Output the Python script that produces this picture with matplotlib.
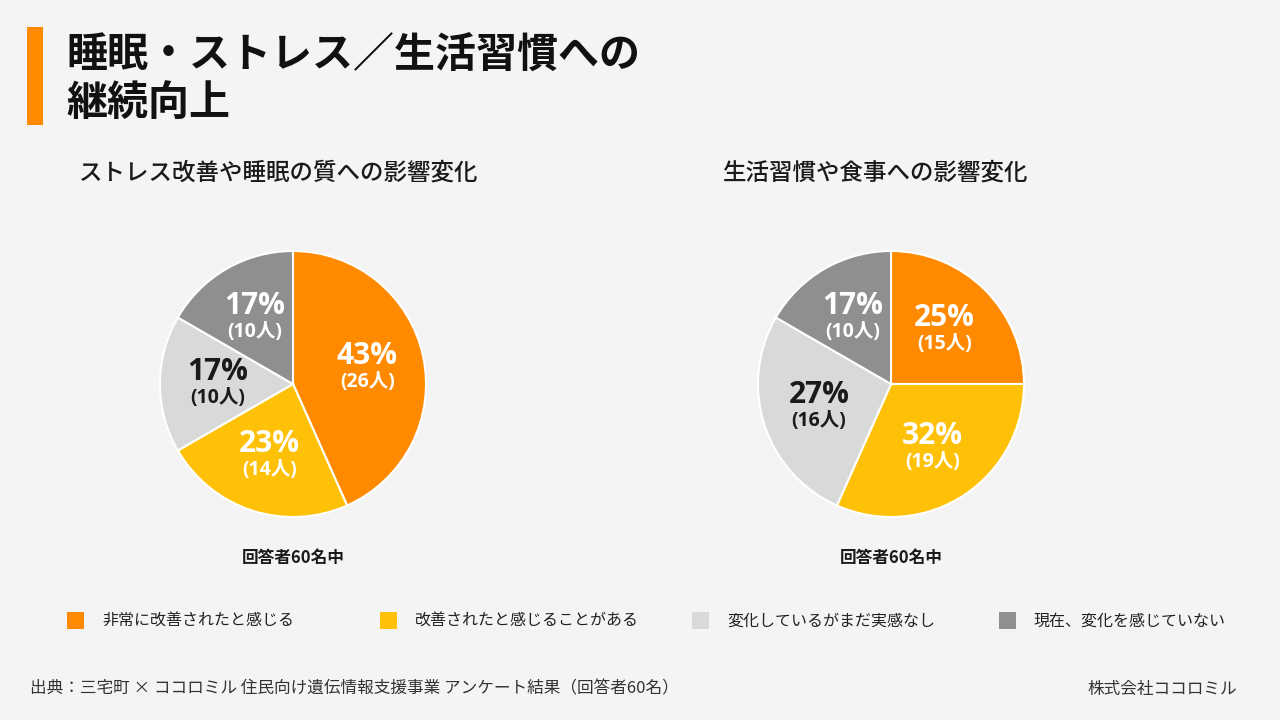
import matplotlib
matplotlib.use("Agg")
import matplotlib.pyplot as plt
from matplotlib.patches import Rectangle
import numpy as np

plt.rcParams["font.family"] = ["Noto Sans CJK JP", "DejaVu Sans"]

# データ
categories = ["非常に改善されたと感じる", "改善されたと感じることがある",
              "変化しているがまだ実感なし", "現在、変化を感じていない"]
stress_counts = [26, 14, 10, 10]
stress_pct = ["43%", "23%", "17%", "17%"]
life_counts = [15, 19, 16, 10]
life_pct = ["25%", "32%", "27%", "17%"]
colors = ["#FF8A00", "#FFC107", "#D9D9D9", "#8F8F8F"]
text_colors = ["white", "white", "#1A1A1A", "white"]

BG = "#F4F4F4"
W, H = 1280, 720
NUM_FONT = ["Open Sans", "Noto Sans CJK JP", "DejaVu Sans"]

fig = plt.figure(figsize=(12.8, 7.2), dpi=100, facecolor=BG)


def px(x, y):
    return x / W, 1 - y / H


def draw_pie(cx, cy, r, counts, pcts):
    ax = fig.add_axes([(cx - r) / W, 1 - (cy + r) / H, 2 * r / W, 2 * r / H])
    ax.set_facecolor(BG)
    wedges, _ = ax.pie(counts, colors=colors, startangle=90, counterclock=False,
                       radius=1, wedgeprops=dict(edgecolor="white", linewidth=1.5))
    ax.set_xlim(-1, 1)
    ax.set_ylim(-1, 1)
    ax.set_aspect("equal")
    ax.axis("off")
    for w, n, p, tc in zip(wedges, counts, pcts, text_colors):
        ang = np.deg2rad((w.theta1 + w.theta2) / 2)
        d = 0.57
        x, y = d * np.cos(ang), d * np.sin(ang)
        ax.text(x, y + 0.09, p, ha="center", va="center", fontsize=21.5,
                fontweight="bold", color=tc, family=NUM_FONT)
        ax.text(x, y - 0.105, f"({n}人)", ha="center", va="center", fontsize=14,
                fontweight="bold", color=tc, family=NUM_FONT)


draw_pie(293, 384, 133, stress_counts, stress_pct)
draw_pie(891, 384, 133, life_counts, life_pct)

# タイトル
fig.patches.append(Rectangle(px(27, 125), 16 / W, 98 / H, transform=fig.transFigure,
                             facecolor="#FF8A00", edgecolor="none"))
fig.text(*px(66, 56), "睡眠・ストレス／生活習慣への", ha="left", va="center",
         fontsize=29.5, fontweight="bold", color="#111111")
fig.text(*px(66, 103), "継続向上", ha="left", va="center",
         fontsize=29.5, fontweight="bold", color="#111111")

fig.text(*px(79, 173), "ストレス改善や睡眠の質への影響変化", ha="left", va="center",
         fontsize=16.9, fontweight="medium", color="#1A1A1A")
fig.text(*px(723, 173), "生活習慣や食事への影響変化", ha="left", va="center",
         fontsize=16.9, fontweight="medium", color="#1A1A1A")

for cx in (293, 891):
    fig.text(*px(cx, 558), "回答者60名中", ha="center", va="center",
             fontsize=12, fontweight="bold", color="#1A1A1A")

# 凡例
legend_x = [67, 380, 692, 999]
for lx, lab, c in zip(legend_x, categories, colors):
    fig.patches.append(Rectangle(px(lx, 629), 17 / W, 17 / H, transform=fig.transFigure,
                                 facecolor=c, edgecolor="none"))
    fig.text(*px(lx + 35, 621), lab, ha="left", va="center", fontsize=11.5,
             color="#222222")

# 出典
fig.text(*px(30, 689), "出典：三宅町 × ココロミル 住民向け遺伝情報支援事業 アンケート結果（回答者60名）",
         ha="left", va="center", fontsize=12, color="#333333")
fig.text(*px(1237, 689), "株式会社ココロミル", ha="right", va="center",
         fontsize=12, color="#333333")

plt.savefig("out.png", dpi=100, facecolor=BG)
